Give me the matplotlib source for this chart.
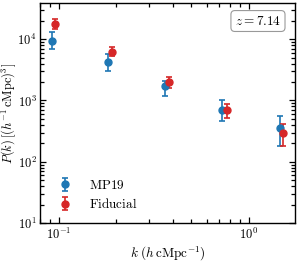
import numpy as np
import matplotlib
matplotlib.use("Agg")
import matplotlib.pyplot as plt
from matplotlib.ticker import FuncFormatter, NullFormatter, LogLocator

plt.rcParams['mathtext.fontset'] = 'cm'
plt.rcParams['font.family'] = 'serif'
plt.rcParams['font.serif'] = ['DejaVu Serif']

# power spectrum values
k_mp19 = [0.092, 0.181, 0.361, 0.72, 1.455]
p_mp19 = [9500, 4200, 1700, 710, 360]
p_mp19_hi = [13000, 5700, 2100, 1000, 550]
p_mp19_lo = [6900, 3000, 1200, 460, 178]

k_fid = [0.0955, 0.19, 0.38, 0.766, 1.51]
p_fid = [17700, 6100, 2000, 710, 300]
p_fid_hi = [21300, 7600, 2400, 890, 420]
p_fid_lo = [14600, 5300, 1600, 520, 180]

fs = 9.5

fig = plt.figure(figsize=(2.97, 2.71), dpi=100)
ax = fig.add_axes([0.135, 0.177, 0.858, 0.812])

def yerr(p, lo, hi):
    p = np.array(p)
    return [p - np.array(lo), np.array(hi) - p]

ax.errorbar(k_mp19, p_mp19, yerr=yerr(p_mp19, p_mp19_lo, p_mp19_hi), fmt='o',
            color='#1f77b4', ms=5, capsize=2.5, elinewidth=1.2, capthick=1.2,
            label=r'$\mathrm{MP19}$')
ax.errorbar(k_fid, p_fid, yerr=yerr(p_fid, p_fid_lo, p_fid_hi), fmt='o',
            color='#d62728', ms=5, capsize=2.5, elinewidth=1.2, capthick=1.2,
            label=r'$\mathrm{Fiducial}$')

ax.set_xscale('log')
ax.set_yscale('log')
ax.set_xlim(0.08, 1.75)
ax.set_ylim(10, 3.9e4)

pow10 = FuncFormatter(lambda v, p: r'$10^{%d}$' % int(round(np.log10(v))))
for a in (ax.xaxis, ax.yaxis):
    a.set_major_locator(LogLocator(base=10))
    a.set_major_formatter(pow10)
    a.set_minor_formatter(NullFormatter())

ax.set_xlabel(r'$k\ (h\,\mathrm{cMpc}^{-1})$', fontsize=fs)
ax.set_ylabel(r'$P(k)\,[(h^{-1}\,\mathrm{cMpc})^3]$', fontsize=9)
ax.yaxis.set_label_coords(-0.088, 0.5)
ax.xaxis.set_label_coords(0.5, -0.1)

for s in ax.spines.values():
    s.set_linewidth(1.0)
ax.tick_params(which='both', direction='in', top=True, right=True, labelsize=9,
               width=0.9, pad=2.5)
ax.tick_params(which='major', length=4.5)
ax.tick_params(which='minor', length=3)

ax.text(0.855, 0.918, r'$z = 7.14$', transform=ax.transAxes, fontsize=fs,
        ha='center', va='center',
        bbox=dict(boxstyle='round,pad=0.3', fc='white', ec='#999999', lw=0.8))

ax.legend(loc='lower left', frameon=False, fontsize=fs, handletextpad=0.8,
          borderaxespad=0.5, labelspacing=0.4)

fig.savefig('out.png', dpi=100)
